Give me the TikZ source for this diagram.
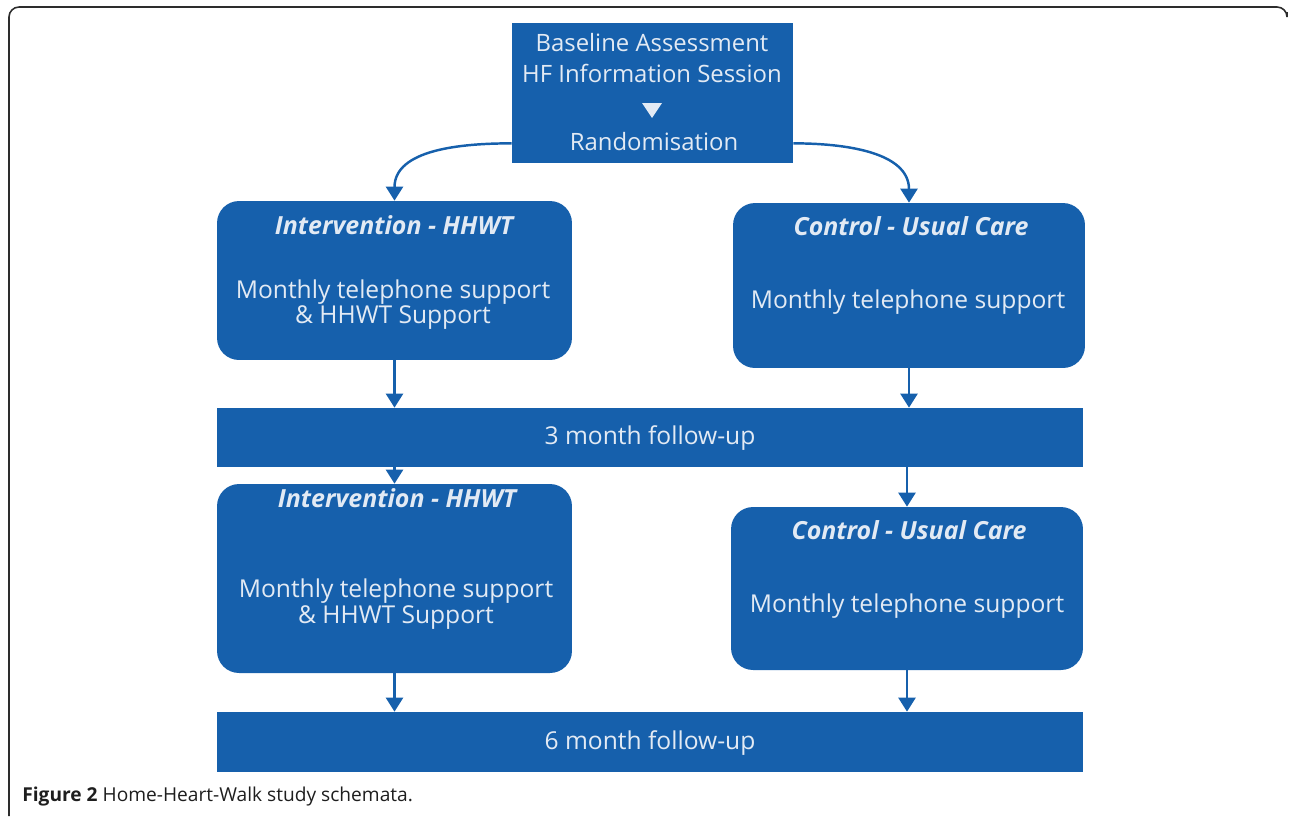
\documentclass[tikz,border=0pt]{standalone}
\usepackage{fontspec}
\setmainfont{Open Sans}
\usetikzlibrary{arrows.meta,positioning}

\definecolor{hhblue}{RGB}{22,96,172}
\definecolor{hhtext}{RGB}{226,234,244}
\definecolor{framegray}{RGB}{45,45,45}
\definecolor{captext}{RGB}{30,30,30}

\tikzset{
  stagebox/.style={fill=hhblue, draw=none, rounded corners=0.44cm, inner sep=0pt},
  barbox/.style={fill=hhblue, draw=none, inner sep=0pt, minimum width=17.32cm},
  boxtext/.style={text=hhtext, font=\fontsize{14}{14.5}\selectfont, align=center, inner sep=0pt},
  boxtitle/.style={boxtext, font=\fontsize{14.2}{14.5}\selectfont\bfseries\itshape},
  flow/.style={draw=hhblue, line width=1.4pt, -{Triangle[length=0.28cm,width=0.34cm]}},
}

\begin{document}
\begin{tikzpicture}[x=0.02cm,y=-0.02cm]
\useasboundingbox (0,0) rectangle (1290,816);

% Frame
\draw[framegray, line width=0.9pt, rounded corners=0.2cm] (9,816) -- (9,7) -- (1287,7) -- (1287,12);

% Baseline / randomisation
\node[fill=hhblue, inner sep=0pt, minimum width=5.62cm, minimum height=2.8cm] (base) at (652.5,93) {};
\node[boxtext, font=\fontsize{13.6}{14}\selectfont] (baseA) at (652,43) {Baseline Assessment};
\node[boxtext, font=\fontsize{13.6}{14}\selectfont] (baseB) at (652,73) {HF Information Session};
\fill[hhtext] (642,103) -- (662,103) -- (652,118) -- cycle;
\node[boxtext, font=\fontsize{13.6}{14}\selectfont] (rand) at (654,142) {Randomisation};

% First three months
\node[stagebox, minimum width=7.1cm, minimum height=3.18cm] (lbox1) at (394.5,280.5) {};
\node[boxtitle] (ltitle1) at (394,225) {Intervention - HHWT};
\node[boxtext] (lbody1) at (393,304.5) {Monthly telephone support\\\& HHWT Support};

\node[stagebox, minimum width=7.04cm, minimum height=3.3cm] (rbox1) at (909,285.5) {};
\node[boxtitle] (rtitle1) at (911,226) {Control - Usual Care};
\node[boxtext] (rbody1) at (908,302) {Monthly telephone support};

% 3 month follow-up
\node[barbox, minimum height=1.18cm] (bar1) at (650,437.5) {};
\node[boxtext] (bartext1) at (650,438) {3 month follow-up};

% Second three months
\node[stagebox, minimum width=7.1cm, minimum height=3.78cm] (lbox2) at (394.5,578.5) {};
\node[boxtitle] (ltitle2) at (397,498) {Intervention - HHWT};
\node[boxtext] (lbody2) at (396,604) {Monthly telephone support\\\& HHWT Support};

\node[stagebox, minimum width=7.04cm, minimum height=3.26cm] (rbox2) at (907,588.5) {};
\node[boxtitle] (rtitle2) at (909,530) {Control - Usual Care};
\node[boxtext] (rbody2) at (907,606) {Monthly telephone support};

% 6 month follow-up
\node[barbox, minimum height=1.2cm] (bar2) at (650,742) {};
\node[boxtext] (bartext2) at (650,743) {6 month follow-up};

% Arrows
\draw[flow] ([yshift=0.4cm]base.south west) to[out=180,in=90] (lbox1.north);
\draw[flow] ([yshift=0.4cm]base.south east) to[out=0,in=90] (rbox1.north);
\draw[flow] (lbox1.south) -- (lbox1.south |- bar1.north);
\draw[flow] (rbox1.south) -- (rbox1.south |- bar1.north);
\draw[flow] (lbox2.north |- bar1.south) -- (lbox2.north);
\draw[flow] (rbox2.north |- bar1.south) -- (rbox2.north);
\draw[flow] (lbox2.south) -- (lbox2.south |- bar2.north);
\draw[flow] (rbox2.south) -- (rbox2.south |- bar2.north);

% Caption
\node[anchor=west, text=captext, font=\fontsize{10.9}{12}\selectfont, inner sep=0pt] (cap) at (22,797) {\textbf{Figure 2} Home-Heart-Walk study schemata.};
\end{tikzpicture}
\end{document}
